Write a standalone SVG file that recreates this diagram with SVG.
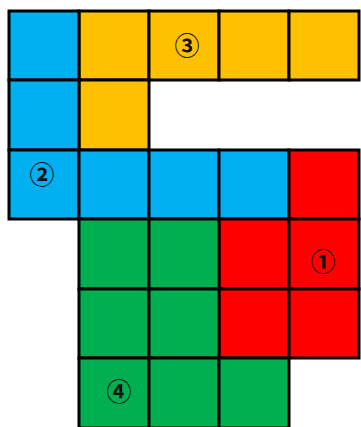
<svg xmlns="http://www.w3.org/2000/svg" width="361" height="427" viewBox="0 0 361 427">
<style>
rect{stroke:#000;stroke-width:3}
.b{fill:#00B0F0}.y{fill:#FFC000}.r{fill:#FF0000}.g{fill:#00B050}
text{font-family:"Noto Sans CJK JP","DejaVu Sans",sans-serif;font-size:25px;font-weight:bold;fill:#111;text-anchor:middle;dominant-baseline:central}
</style>
<rect x="0" y="0" width="361" height="427" style="fill:#fff;stroke:none"/>
<g id="region3">
<rect class="y" x="79" y="11" width="70" height="69"/>
<rect class="y" x="149" y="11" width="70" height="69"/>
<rect class="y" x="219" y="11" width="70" height="69"/>
<rect class="y" x="289" y="11" width="70" height="69"/>
<rect class="y" x="79" y="80" width="70" height="70"/>
<text x="187" y="44">③</text>
</g>
<g id="region2">
<rect class="b" x="9" y="11" width="70" height="69"/>
<rect class="b" x="9" y="80" width="70" height="70"/>
<rect class="b" x="9" y="150" width="70" height="69"/>
<rect class="b" x="79" y="150" width="70" height="69"/>
<rect class="b" x="149" y="150" width="70" height="69"/>
<rect class="b" x="219" y="150" width="70" height="69"/>
<text x="42" y="173">②</text>
</g>
<g id="region1">
<rect class="r" x="289" y="150" width="70" height="69"/>
<rect class="r" x="219" y="219" width="70" height="70"/>
<rect class="r" x="289" y="219" width="70" height="70"/>
<rect class="r" x="219" y="289" width="70" height="69"/>
<rect class="r" x="289" y="289" width="70" height="69"/>
<text x="323" y="260">①</text>
</g>
<g id="region4">
<rect class="g" x="79" y="219" width="70" height="70"/>
<rect class="g" x="149" y="219" width="70" height="70"/>
<rect class="g" x="79" y="289" width="70" height="69"/>
<rect class="g" x="149" y="289" width="70" height="69"/>
<rect class="g" x="79" y="358" width="70" height="70"/>
<rect class="g" x="149" y="358" width="70" height="70"/>
<rect class="g" x="219" y="358" width="70" height="70"/>
<text x="119" y="390">④</text>
</g>
<g id="connectors"/>
</svg>
